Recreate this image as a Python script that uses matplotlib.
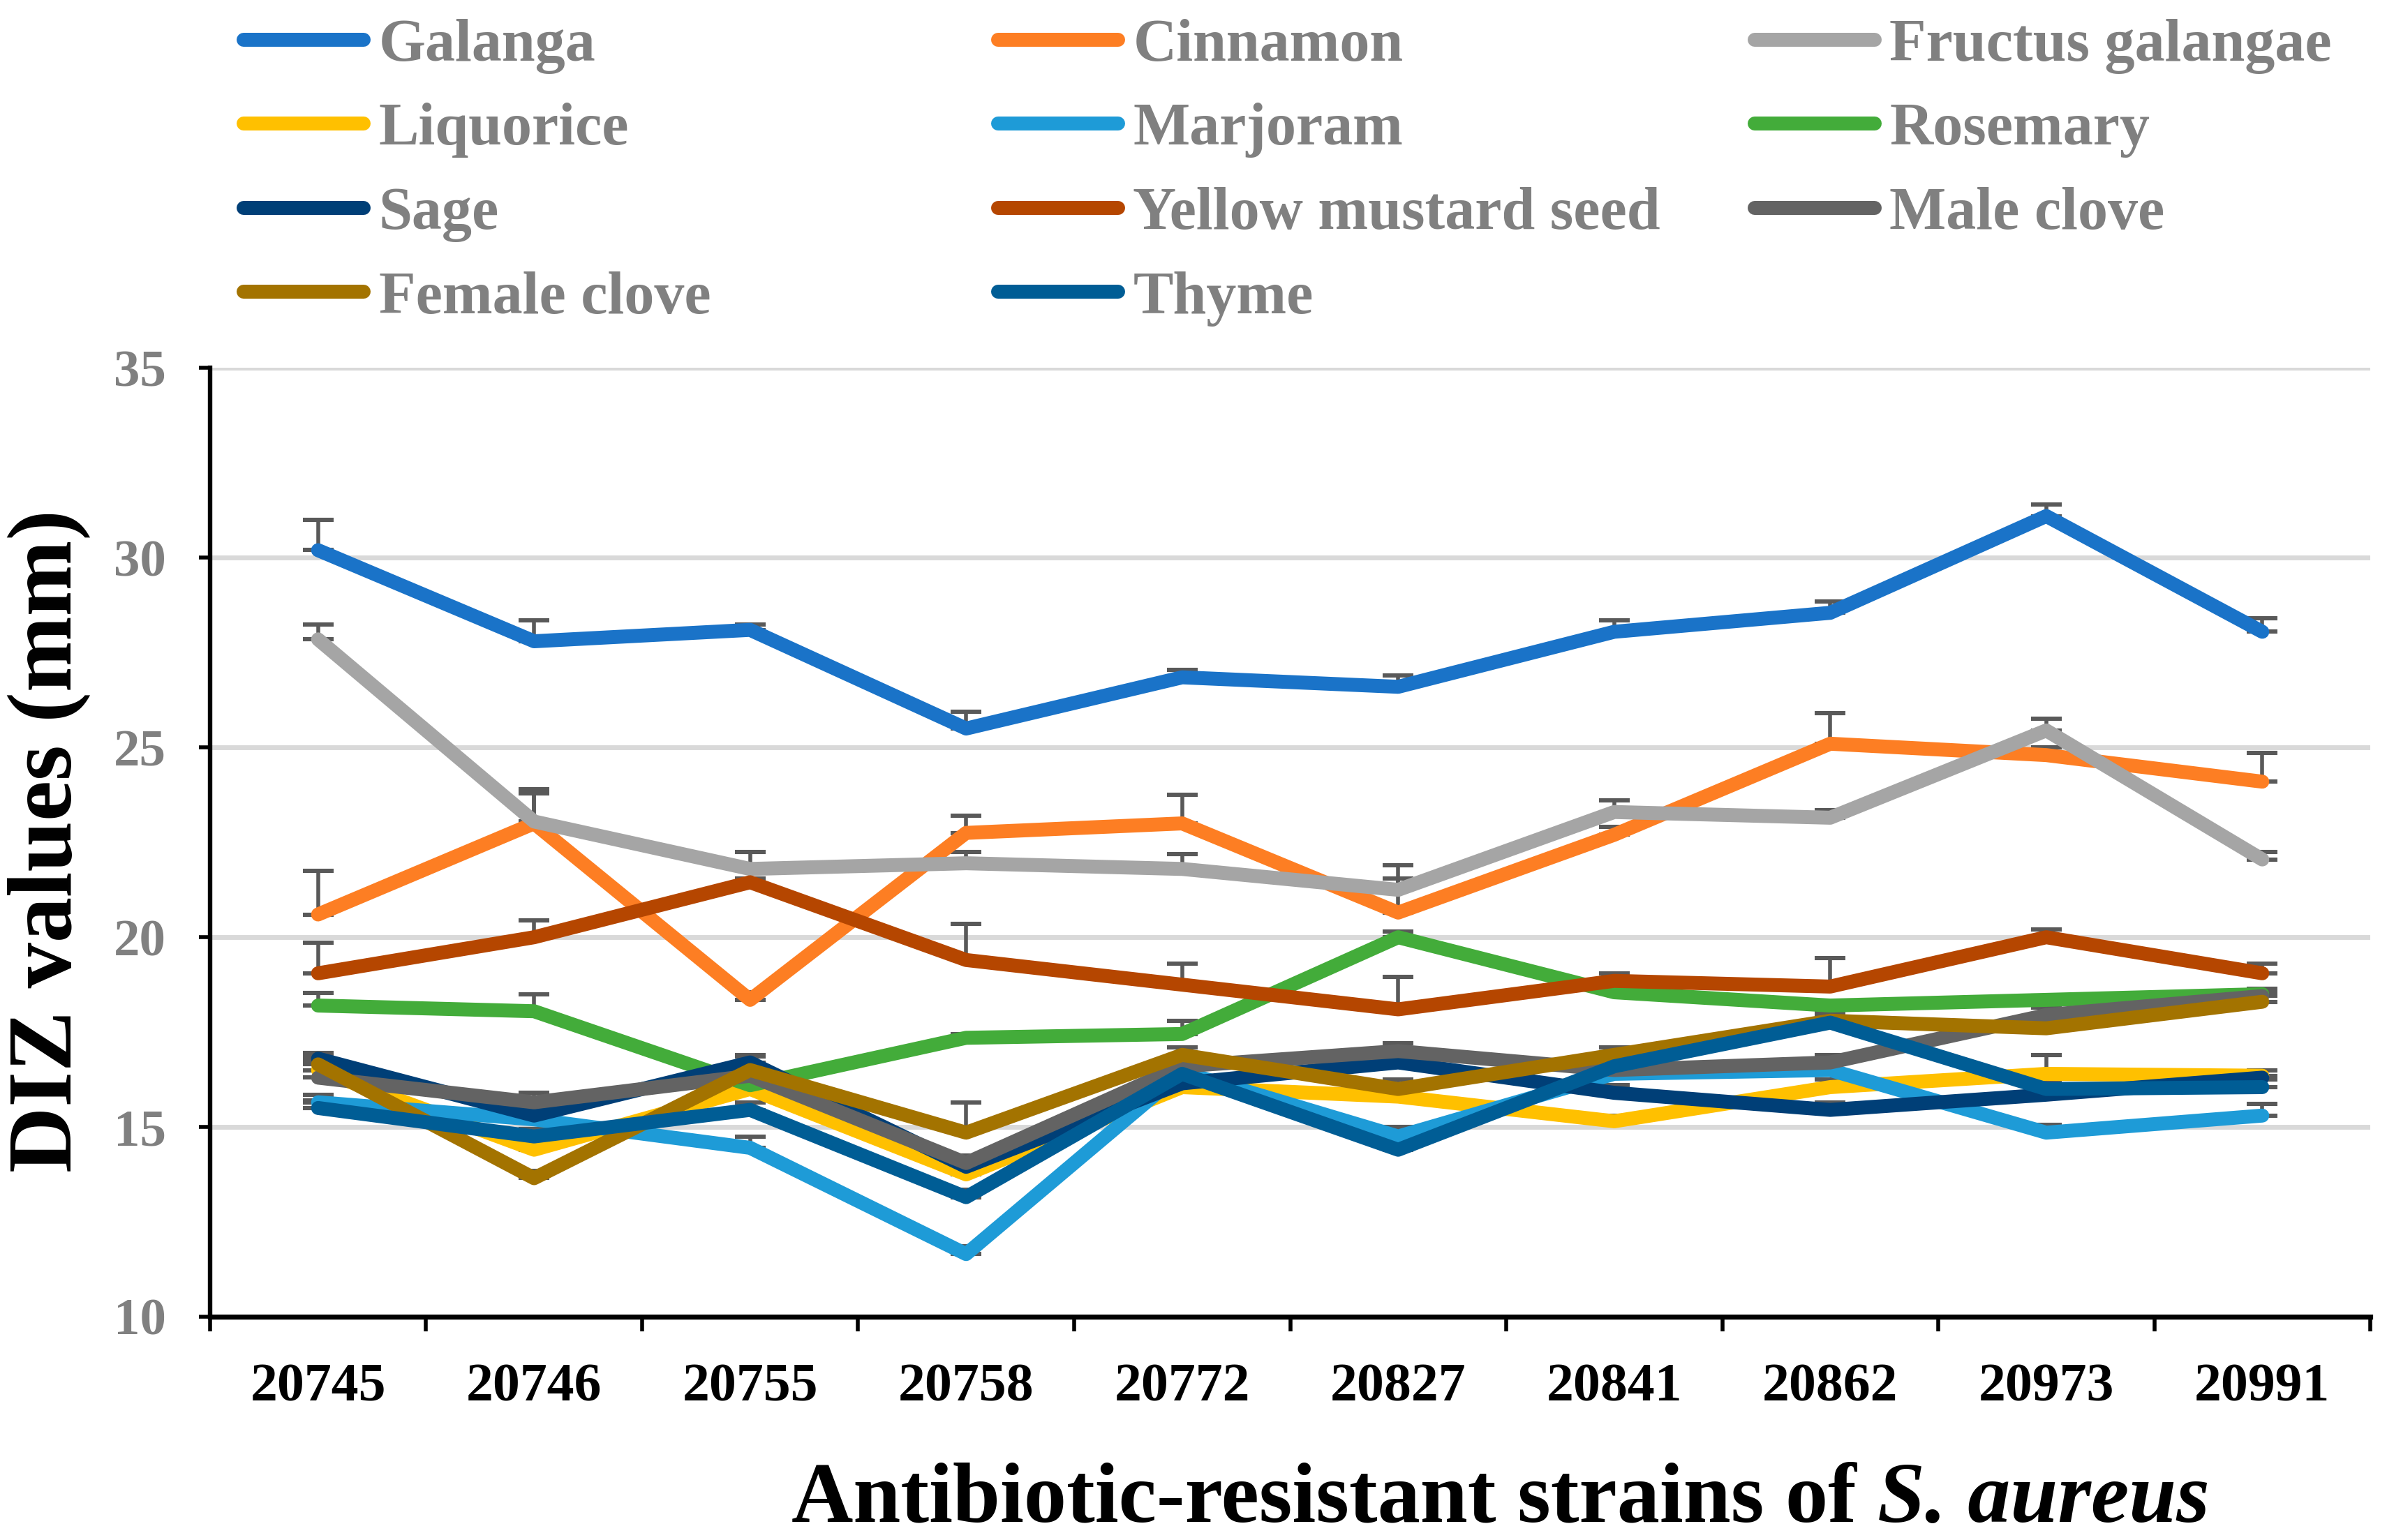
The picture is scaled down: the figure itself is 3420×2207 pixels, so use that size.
import matplotlib
matplotlib.use('Agg')
import matplotlib.pyplot as plt
import numpy as np

plt.rcParams['font.family'] = ['Liberation Serif', 'DejaVu Serif']
plt.rcParams['font.weight'] = 'bold'

strains = ['20745', '20746', '20755', '20758', '20772', '20827', '20841', '20862', '20973', '20991']

galanga = [30.2, 27.8, 28.1, 25.5, 26.85, 26.6, 28.05, 28.55, 31.1, 28.05]
galanga_err = [0.8, 0.55, 0.15, 0.45, 0.2, 0.3, 0.3, 0.3, 0.3, 0.35]
cinnamon = [20.6, 23.0, 18.35, 22.75, 23.0, 20.65, 22.7, 25.1, 24.8, 24.1]
cinnamon_err = [1.15, 0.9, 0.2, 0.45, 0.75, 1.25, 0.2, 0.8, 0.2, 0.75]
fructus = [27.85, 23.05, 21.8, 21.95, 21.8, 21.25, 23.3, 23.15, 25.45, 22.05]
fructus_err = [0.4, 0.75, 0.45, 0.3, 0.4, 0.3, 0.3, 0.2, 0.3, 0.2]
liquorice = [16.5, 14.4, 16.0, 13.75, 16.05, 15.8, 15.15, 16.05, 16.4, 16.35]
liquorice_err = [0.2, 0.2, 0.2, 0.2, 0.2, 0.2, 0.15, 0.2, 0.5, 0.15]
marjoram = [15.65, 15.2, 14.45, 11.65, 16.45, 14.75, 16.4, 16.5, 14.85, 15.3]
marjoram_err = [0.2, 0.3, 0.3, 0.2, 0.2, 0.25, 0.2, 0.2, 0.2, 0.3]
rosemary = [18.2, 18.05, 16.1, 17.35, 17.45, 20.0, 18.55, 18.2, 18.35, 18.5]
rosemary_err = [0.33, 0.45, 0.1, 0.1, 0.35, 0.15, 0.15, 0.1, 0.1, 0.1]
sage = [16.8, 15.3, 16.7, 13.95, 16.15, 16.7, 15.9, 15.45, 15.85, 16.3]
sage_err = [0.15, 0.2, 0.15, 0.2, 0.2, 0.2, 0.2, 0.2, 0.2, 0.2]
mustard = [19.05, 20.0, 21.45, 19.4, 18.75, 18.1, 18.85, 18.7, 20.0, 19.05]
mustard_err = [0.8, 0.45, 0.1, 0.95, 0.55, 0.85, 0.2, 0.75, 0.2, 0.25]
male_clove = [16.3, 15.65, 16.35, 14.05, 16.6, 17.0, 16.5, 16.7, 17.95, 18.45]
male_clove_err = [0.2, 0.25, 0.2, 0.2, 0.2, 0.2, 0.2, 0.2, 0.2, 0.2]
female_clove = [16.65, 13.65, 16.5, 14.85, 16.9, 16.0, 16.9, 17.8, 17.6, 18.3]
female_clove_err = [0.2, 0.2, 0.4, 0.8, 0.2, 0.25, 0.2, 0.2, 0.2, 0.2]
thyme = [15.5, 14.75, 15.45, 13.15, 16.4, 14.4, 16.6, 17.75, 16.0, 16.05]
thyme_err = [0.2, 0.2, 0.2, 0.2, 0.2, 0.2, 0.2, 0.2, 0.2, 0.2]

series = [
    ('Galanga', galanga, galanga_err, '#1A73C8'),
    ('Cinnamon', cinnamon, cinnamon_err, '#FD7E23'),
    ('Fructus galangae', fructus, fructus_err, '#A5A5A5'),
    ('Liquorice', liquorice, liquorice_err, '#FFC000'),
    ('Marjoram', marjoram, marjoram_err, '#1E9BD7'),
    ('Rosemary', rosemary, rosemary_err, '#43AC3A'),
    ('Sage', sage, sage_err, '#003F77'),
    ('Yellow mustard seed', mustard, mustard_err, '#B54600'),
    ('Male clove', male_clove, male_clove_err, '#636363'),
    ('Female clove', female_clove, female_clove_err, '#A37300'),
    ('Thyme', thyme, thyme_err, '#005D95'),
]

fig = plt.figure(figsize=(17.1, 11.035), dpi=200)
ax = fig.add_axes([0.088, 0.145, 0.905, 0.616])

x = np.arange(len(strains))
handles = {}
for name, vals, err, col in series:
    cont = ax.errorbar(x, vals, yerr=[np.zeros(len(err)), err], fmt='-', color=col, lw=7.2,
                       ecolor='#595959', elinewidth=2, capsize=8, capthick=2.2,
                       solid_capstyle='round', solid_joinstyle='round')
    handles[name] = cont[0]

ax.set_xlim(-0.5, 9.5)
ax.set_ylim(10, 35)
ax.set_xticks(np.arange(-0.5, 10, 1))
ax.set_xticklabels([])
ax.set_xticks(x, minor=True)
ax.set_xticklabels(strains, minor=True)
ax.tick_params(axis='x', which='major', length=7.6, width=2, direction='out')
ax.tick_params(axis='x', which='minor', length=0, pad=24, labelsize=28)
ax.set_yticks([10, 15, 20, 25, 30, 35])
ax.tick_params(axis='y', length=5.6, width=2, pad=17, labelsize=27, labelcolor='#808080')

ax.yaxis.grid(True, color='#D9D9D9', lw=2.5)
ax.set_axisbelow(True)
for s in ['top', 'right']:
    ax.spines[s].set_visible(False)
ax.spines['left'].set_linewidth(2.3)
ax.spines['bottom'].set_linewidth(2.6)

# legend: three columns placed like the Excel layout
cols = [['Galanga', 'Liquorice', 'Sage', 'Female clove'],
        ['Cinnamon', 'Marjoram', 'Yellow mustard seed', 'Thyme'],
        ['Fructus galangae', 'Rosemary', 'Male clove']]
col_x = [0.102, 0.418, 0.735]
for names, cx in zip(cols, col_x):
    fig.legend([handles[n] for n in names], names, loc='upper left', bbox_to_anchor=(cx, 0.988),
               frameon=False, borderpad=0, borderaxespad=0, handlelength=2.0,
               handletextpad=0.25, labelspacing=0.48,
               prop={'size': 31, 'weight': 'bold'}, labelcolor='#808080')

fig.text(0.0205, 0.454, 'DIZ values (mm)', rotation=90, fontsize=47, fontweight='bold',
         ha='center', va='center')

t1 = fig.text(0.3316, 0.0118, 'Antibiotic-resistant strains of', fontsize=44,
              fontweight='bold', ha='left', va='baseline')
fig.canvas.draw()
bb = t1.get_window_extent()
fig.text((bb.x1 + 30) / fig.bbox.width, 0.0118, 'S. aureus', fontsize=44,
         fontweight='bold', style='italic', ha='left', va='baseline')

fig.savefig('out.png', dpi=200)
